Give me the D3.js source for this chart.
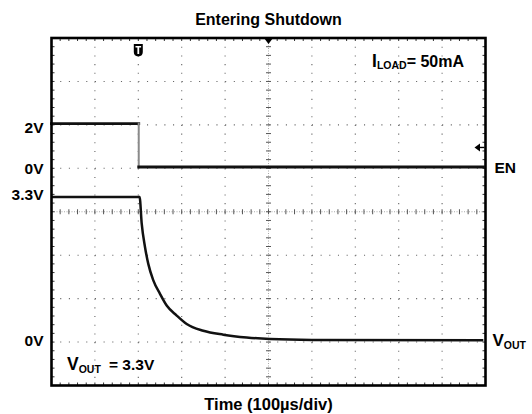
<!DOCTYPE html>
<html>
<head>
<meta charset="utf-8">
<script src="https://cdn.jsdelivr.net/npm/d3@7"></script>
<style>
  body { margin: 0; background: #fff; }
  svg { display: block; font-family: "Liberation Sans", Arial, sans-serif; font-weight: bold; }
</style>
</head>
<body>
<div id="chart"></div>
<script>
// scope capture: EN and VOUT, 100us/div, 10 x 8 divisions
const titleText = "Entering Shutdown";
const xTitle = "Time (100\u00b5s/div)";

const enTime = [0, 201, 201, 995];
const enVolts = [2, 2, 0, 0];

const voutTime = [0, 203, 207.8, 215.4, 223, 234.6, 250, 265.4, 288.5, 311.5, 349.8, 395.9, 449.8, 503.5, 600, 995];
const voutVolts = [3.3, 3.3, 2.69, 2.15, 1.76, 1.38, 1.07, 0.80, 0.57, 0.375, 0.22, 0.13, 0.065, 0.03, 0.01, 0];

const tickLabels = ["2V", "0V", "3.3V", "0V"];
const tickChannels = ["EN", "EN", "VOUT", "VOUT"];
const tickVolts = [2, 0, 3.3, 0];

const triggerTime = 200;
const triggerLevel = 0.9;   // EN volts

// channel settings: position of 0V in divisions, volts per division
const channels = {
    EN:   { offset: 1.03,  voltsPerDiv: 2 },
    VOUT: { offset: -2.96, voltsPerDiv: 1 }
};

const W = 532, H = 414;
const plot = { left: 51.5, right: 485.5, top: 38, bottom: 385.5 };
const labelNudge = [9, 7, 3.5, 6];

const svg = d3.select("#chart").append("svg")
    .attr("width", W)
    .attr("height", H);

const x = d3.scaleLinear().domain([0, 1000]).range([plot.left, plot.right]);
const gy = d3.scaleLinear().domain([-4, 4]).range([plot.bottom, plot.top]);

const chY = name => {
    const c = channels[name];
    return d3.scaleLinear()
        .domain([0, c.voltsPerDiv])
        .range([gy(c.offset), gy(c.offset + 1)]);
};
const enY = chY("EN");
const voutY = chY("VOUT");

const divW = x(100) - x(0);
const divH = gy(0) - gy(1);

// dotted grid
const grid = svg.append("g");
const xDivs = d3.range(100, 1000, 100).filter(d => d !== 500);
const yDivs = d3.range(-3, 4).filter(d => d !== 0);

grid.selectAll(".vg").data(xDivs).join("line")
    .attr("x1", d => x(d)).attr("x2", d => x(d))
    .attr("y1", plot.top).attr("y2", plot.bottom)
    .attr("stroke", "#666").attr("stroke-width", 1.1)
    .attr("stroke-dasharray", `1.1 ${divH / 5 - 1.1}`);

grid.selectAll(".hg").data(yDivs).join("line")
    .attr("y1", d => gy(d)).attr("y2", d => gy(d))
    .attr("x1", plot.left).attr("x2", plot.right)
    .attr("stroke", "#666").attr("stroke-width", 1.1)
    .attr("stroke-dasharray", `1.1 ${divW / 5 - 1.1}`);

// center cross with minor ticks
const cx = x(500), cy = gy(0);
grid.append("line")
    .attr("x1", cx).attr("x2", cx).attr("y1", plot.top).attr("y2", plot.bottom)
    .attr("stroke", "#aaa").attr("stroke-width", 1).attr("stroke-dasharray", "1 1.5");
grid.append("line")
    .attr("y1", cy).attr("y2", cy).attr("x1", plot.left).attr("x2", plot.right)
    .attr("stroke", "#aaa").attr("stroke-width", 1).attr("stroke-dasharray", "1 1.5");

const minorX = d3.range(0, 1000.1, 20);
const minorY = d3.range(-4, 4.01, 0.2);

grid.selectAll(".cxt").data(minorY).join("line")
    .attr("x1", cx - 2.5).attr("x2", cx + 2.5)
    .attr("y1", d => gy(d)).attr("y2", d => gy(d))
    .attr("stroke", "#555").attr("stroke-width", 1);
grid.selectAll(".cyt").data(minorX).join("line")
    .attr("y1", cy - 2.5).attr("y2", cy + 2.5)
    .attr("x1", d => x(d)).attr("x2", d => x(d))
    .attr("stroke", "#555").attr("stroke-width", 1);

// ticks on the frame edges
grid.selectAll(".tt").data(minorX).join("line")
    .attr("x1", d => x(d)).attr("x2", d => x(d))
    .attr("y1", plot.top).attr("y2", plot.top + 3)
    .attr("stroke", "#333").attr("stroke-width", 1);
grid.selectAll(".bt").data(minorX).join("line")
    .attr("x1", d => x(d)).attr("x2", d => x(d))
    .attr("y1", plot.bottom).attr("y2", plot.bottom - 3)
    .attr("stroke", "#333").attr("stroke-width", 1);
grid.selectAll(".lt").data(minorY).join("line")
    .attr("y1", d => gy(d)).attr("y2", d => gy(d))
    .attr("x1", plot.left).attr("x2", plot.left + 3)
    .attr("stroke", "#333").attr("stroke-width", 1);
grid.selectAll(".rt").data(minorY).join("line")
    .attr("y1", d => gy(d)).attr("y2", d => gy(d))
    .attr("x1", plot.right).attr("x2", plot.right - 3)
    .attr("stroke", "#333").attr("stroke-width", 1);

// traces
const enData = enTime.map((t, i) => [t, enVolts[i]]);
const voutData = voutTime.map((t, i) => [t, voutVolts[i]]);

// EN: flat parts dark, the fast edge drawn lighter like the scope does
svg.selectAll(".en").data(d3.pairs(enData)).join("line")
    .attr("x1", d => x(d[0][0])).attr("y1", d => enY(d[0][1]))
    .attr("x2", d => x(d[1][0])).attr("y2", d => enY(d[1][1]))
    .attr("stroke", d => d[0][0] === d[1][0] ? "#8a8a8a" : "#111")
    .attr("stroke-width", d => d[0][0] === d[1][0] ? 2 : 2.8)
    .attr("stroke-linecap", "square");

svg.append("path")
    .datum(voutData)
    .attr("fill", "none")
    .attr("stroke", "#111")
    .attr("stroke-width", 2.5)
    .attr("d", d3.line().curve(d3.curveMonotoneX).x(d => x(d[0])).y(d => voutY(d[1])));

// frame
svg.append("rect")
    .attr("x", plot.left).attr("y", plot.top)
    .attr("width", plot.right - plot.left).attr("height", plot.bottom - plot.top)
    .attr("fill", "none").attr("stroke", "#000").attr("stroke-width", 2.6);

// delay marker at top center
svg.append("path")
    .attr("d", `M${cx - 4.5},${plot.top} L${cx + 4.5},${plot.top} L${cx},${plot.top + 6} Z`)
    .attr("fill", "#000");

// trigger "T" marker
const tx = x(triggerTime);
const tm = svg.append("g").attr("transform", `translate(${tx},44)`);
tm.append("path")
    .attr("d", "M-4.5,0 L4.5,0 L4.5,8 Q4.5,12 0,12.5 Q-4.5,12 -4.5,8 Z")
    .attr("fill", "#000");
tm.append("path")
    .attr("d", "M-2.8,2 L2.8,2 L2.8,3.6 L0.9,3.6 L0.9,10 L-0.9,10 L-0.9,3.6 L-2.8,3.6 Z")
    .attr("fill", "#fff");

// trigger level arrow
const ay = enY(triggerLevel);
svg.append("path")
    .attr("d", `M${plot.right - 11},${ay} L${plot.right - 5.5},${ay - 4} L${plot.right - 5.5},${ay + 4} Z`)
    .attr("fill", "#000");
svg.append("line")
    .attr("x1", plot.right - 6).attr("x2", plot.right - 1)
    .attr("y1", ay).attr("y2", ay)
    .attr("stroke", "#000").attr("stroke-width", 1.4);

// left level labels
svg.selectAll(".lvl").data(tickLabels).join("text")
    .attr("x", plot.left - 8)
    .attr("y", (d, i) => (tickChannels[i] === "EN" ? enY : voutY)(tickVolts[i]) + labelNudge[i])
    .attr("text-anchor", "end")
    .attr("font-size", 15.5)
    .text(d => d);

// channel names on right
svg.append("text")
    .attr("x", plot.right + 9).attr("y", enY(0) + 6)
    .attr("font-size", 15.5)
    .text("EN");

const vr = svg.append("text")
    .attr("x", plot.right + 7).attr("y", voutY(0) + 6);
vr.append("tspan").attr("font-size", 17).text("V");
vr.append("tspan").attr("font-size", 10.5).attr("dy", 3).text("OUT");

// annotations
const il = svg.append("text").attr("x", 372).attr("y", 66.5);
il.append("tspan").attr("font-size", 17.5).text("I");
il.append("tspan").attr("font-size", 10.5).attr("dy", 2.5).text("LOAD");
il.append("tspan").attr("font-size", 16).attr("dy", -2.5).text("= 50mA");

const vl = svg.append("text").attr("y", 370);
vl.append("tspan").attr("x", 67).attr("font-size", 17.5).text("V");
vl.append("tspan").attr("font-size", 10.5).attr("dy", 2.5).text("OUT");
vl.append("tspan").attr("x", 109).attr("font-size", 15.5).attr("dy", -2.5).text("= 3.3V");

// titles
svg.append("text")
    .attr("x", (plot.left + plot.right) / 2).attr("y", 25)
    .attr("text-anchor", "middle")
    .attr("font-size", 16)
    .text(titleText);

svg.append("text")
    .attr("x", (plot.left + plot.right) / 2).attr("y", 410)
    .attr("text-anchor", "middle")
    .attr("font-size", 16.5)
    .text(xTitle);
</script>
</body>
</html>
